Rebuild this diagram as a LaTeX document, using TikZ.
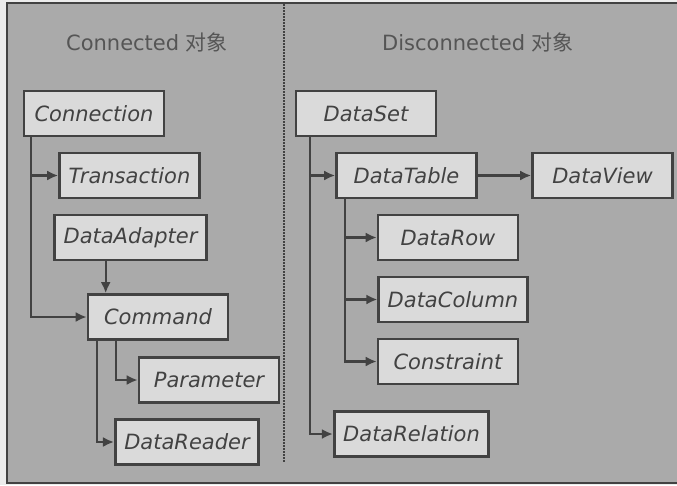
\documentclass[tikz,border=0pt]{standalone}
\usepackage{fontspec}
\setmainfont{DejaVu Sans}
\newfontfamily\cjk{Noto Sans CJK SC}
\usetikzlibrary{arrows.meta}
\definecolor{paper}{RGB}{236,236,236}
\definecolor{panel}{RGB}{170,170,170}
\definecolor{boxfill}{RGB}{218,218,218}
\definecolor{ink}{RGB}{66,66,66}
\begin{document}
\begin{tikzpicture}
      [x=1pt, y=-1pt,
      font=\fontsize{21}{25}\selectfont,
      obj/.style={rectangle, draw=ink, fill=boxfill, line width=2.6pt,
        minimum width=140pt, minimum height=45pt, inner xsep=9pt,
        text=ink, font=\fontsize{21}{25}\selectfont\itshape},
      title/.style={text=ink!90},
      arr/.style={-{Latex[length=11pt,width=10pt]}, draw=ink, line width=2.4pt}]
      % paper and panel
      \useasboundingbox (0, 0) rectangle (677, 485);
      \fill[paper] (0, 0) rectangle (677, 485);
      \filldraw[fill=panel, draw=ink, line width=2pt] (7, 3) rectangle (690, 483);
      \draw[ink, line width=1.6pt, dash pattern=on 1.6pt off 1.4pt] (284, 4) -- (284, 462);
      \node (conntitle) at (147, 42) [title] {Connected {\cjk 对象}};
      \node (disctitle) at (478, 42) [title] {Disconnected {\cjk 对象}};
      % connected objects
      \node (connection) at (94, 113.5) [obj] {Connection};
      \node (transaction) at (129.5, 175.5) [obj] {Transaction};
      \node (adapter) at (130.5, 237.5) [obj] {DataAdapter};
      \node (command) at (158, 317) [obj] {Command};
      \node (parameter) at (209, 380) [obj] {Parameter};
      \node (reader) at (187, 442) [obj] {DataReader};
      \draw[arr] ([xshift=8pt]connection.south west) |- (transaction.west);
      \draw[arr] ([xshift=8pt]connection.south west) |- (command.west);
      \draw[arr] ([xshift=19pt]command.north west |- adapter.south)
        -- ([xshift=19pt]command.north west);
      \draw[arr] ([xshift=29pt]command.south west) |- (parameter.west);
      \draw[arr] ([xshift=10pt]command.south west) |- (reader.west);
      % disconnected objects
      \node (dataset) at (366, 113.5) [obj] {DataSet};
      \node (datatable) at (406.5, 175.5) [obj] {DataTable};
      \node (dataview) at (602.5, 175.5) [obj] {DataView};
      \node (datarow) at (448, 237.5) [obj] {DataRow};
      \node (datacolumn) at (453, 299.5) [obj] {DataColumn};
      \node (constraint) at (448, 361.5) [obj] {Constraint};
      \node (relation) at (411.5, 434) [obj] {DataRelation};
      \draw[arr] ([xshift=15pt]dataset.south west) |- (datatable.west);
      \draw[arr] ([xshift=15pt]dataset.south west) |- (relation.west);
      \draw[arr] (datatable) -- (dataview);
      \draw[arr] ([xshift=10pt]datatable.south west) |- (datarow.west);
      \draw[arr] ([xshift=10pt]datatable.south west) |- (datacolumn.west);
      \draw[arr] ([xshift=10pt]datatable.south west) |- (constraint.west);
    \end{tikzpicture}
\end{document}
